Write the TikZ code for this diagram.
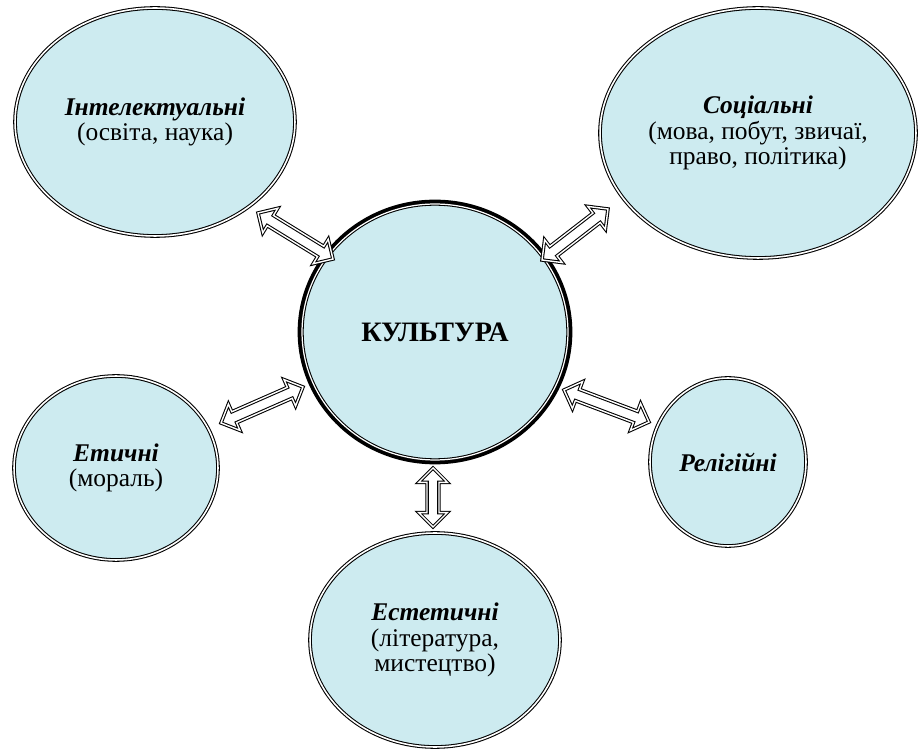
\documentclass[tikz,border=0pt]{standalone}
\usepackage{fontspec}
\setmainfont{Liberation Serif}
\usepackage{tikz}
\usetikzlibrary{calc,shapes.geometric,shapes.arrows}
\definecolor{paleblue}{RGB}{205,235,240}
\newcommand{\kind}[1]{\textbf{\textit{#1}}}

\begin{document}
\begin{tikzpicture}[x=0.02cm,y=-0.02cm,
    oval/.style={ellipse,draw,fill=paleblue,line width=0.6pt,double=white,double distance=0.9pt,
        inner sep=0pt,align=center,font=\fontsize{14.5}{14.5}\selectfont},
    core/.style={oval,double distance=0.7pt,preaction={draw,line width=5pt},
        font=\fontsize{16}{18}\selectfont\bfseries},
    link/.style={double arrow,draw,fill=white,line width=0.6pt,double=white,double distance=0.8pt,
        inner xsep=0pt,inner ysep=3.1pt,double arrow head extend=4.8pt,minimum width=0pt}
]
\useasboundingbox (0,0) rectangle (920,749);

\node[oval,minimum width=5.6cm,minimum height=4.56cm] (intel) at (155,122)
    {\kind{Інтелектуальні}\\(освіта, наука)};
\node[oval,minimum width=6.32cm,minimum height=5cm] (soc) at (758,133)
    {\kind{Соціальні}\\(мова, побут, звичаї,\\право, політика)};
\node[core,minimum width=5.32cm,minimum height=5.12cm] (kult) at (435,332) {КУЛЬТУРА};
\node[oval,minimum width=4.08cm,minimum height=3.68cm] (etyc) at (116,468)
    {\kind{Етичні}\\(мораль)};
\node[oval,minimum width=3.12cm,minimum height=3.36cm] (relig) at (728,462)
    {\kind{Релігійні}};
\node[oval,minimum width=5cm,minimum height=4.28cm] (estet) at (435,640)
    {\kind{Естетичні}\\(література,\\мистецтво)};

\coordinate (a1s) at (258,213); \coordinate (a1e) at (333,259);
\coordinate (a2s) at (542,260); \coordinate (a2e) at (608,209);
\coordinate (a3s) at (221,423); \coordinate (a3e) at (303,387);
\coordinate (a4s) at (564,390); \coordinate (a4e) at (649,422);
\coordinate (a5s) at (433,468); \coordinate (a5e) at (433,527);

\foreach \s/\e in {a1s/a1e,a2s/a2e,a3s/a3e,a4s/a4e,a5s/a5e}
    \path let \p1=($(\e)-(\s)$) in
        (\s) -- node[link,sloped,minimum height={veclen(\x1,\y1)}] {} (\e);
\end{tikzpicture}
\end{document}
